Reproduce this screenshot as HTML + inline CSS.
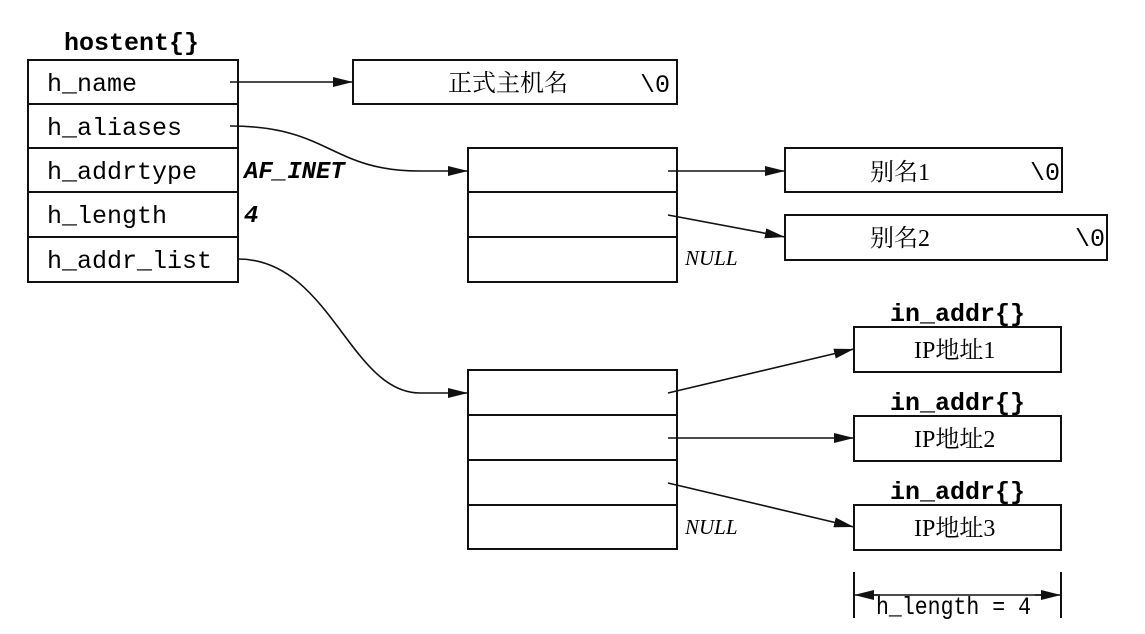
<!DOCTYPE html>
<html><head><meta charset="utf-8"><style>
body{margin:0;background:#fff}
svg{display:block}
.m{font-family:"Liberation Mono",monospace;font-size:25px}
.b{font-family:"Liberation Mono",monospace;font-size:25px;font-weight:bold}
.c{font-family:"Liberation Serif","Noto Serif CJK SC",serif;font-size:24px}
.i{font-family:"Liberation Serif",serif;font-style:italic;font-size:21px}
.mi{font-family:"Liberation Mono",monospace;font-style:italic;font-size:24px;font-weight:bold}
</style></head><body>
<svg width="1145" height="634" viewBox="0 0 1145 634" xmlns="http://www.w3.org/2000/svg">
<defs><marker id="a" markerWidth="20" markerHeight="10" refX="20" refY="5" orient="auto" markerUnits="userSpaceOnUse"><path d="M0,0 L20,5 L0,10 Z" fill="#111"/></marker></defs>
<g fill="none" stroke="#111" stroke-width="2">
<rect x="28" y="60" width="210" height="222"/>
<path d="M28 104H238M28 148H238M28 192H238M28 237H238"/>
<rect x="353" y="60" width="324" height="44"/>
<rect x="468" y="148" width="209" height="134"/>
<path d="M468 192H677M468 237H677"/>
<rect x="785" y="148" width="277" height="44"/>
<rect x="785" y="215" width="322" height="45"/>
<rect x="468" y="370" width="209" height="179"/>
<path d="M468 415H677M468 460H677M468 505H677"/>
<rect x="854" y="327" width="207" height="45"/>
<rect x="854" y="416" width="207" height="45"/>
<rect x="854" y="505" width="207" height="45"/>
<path d="M854 572V618M1061 572V618"/>
</g>
<g fill="none" stroke="#111" stroke-width="1.6" marker-end="url(#a)">
<path d="M230 82H353"/>
<path d="M230 126C330 126 330 171 420 171H468"/>
<path d="M668 171H785"/>
<path d="M668 215L785 237"/>
<path d="M238 259C330 259 350 393 420 393H468"/>
<path d="M668 393L854 349"/>
<path d="M668 438H854"/>
<path d="M668 483L854 527"/>
<path d="M880 595H854"/>
<path d="M1035 595H1061"/>
</g>
<path d="M870 595H1045" stroke="#111" stroke-width="1.6"/>
<text x="64" y="50" class="b">hostent{}</text>
<text x="47" y="91" class="m">h_name</text>
<text x="47" y="135" class="m">h_aliases</text>
<text x="47" y="179" class="m">h_addrtype</text>
<text x="47" y="223" class="m">h_length</text>
<text x="47" y="268" class="m">h_addr_list</text>
<text x="244" y="178" class="mi">AF_INET</text>
<text x="244" y="222" class="mi">4</text>
<text x="448" y="91" class="c">正式主机名</text>
<text x="640" y="92" class="m">\0</text>
<text x="870" y="180" class="c">别名1</text>
<text x="1030" y="180" class="m">\0</text>
<text x="870" y="246" class="c">别名2</text>
<text x="1075" y="246" class="m">\0</text>
<text x="685" y="265" class="i">NULL</text>
<text x="685" y="534" class="i">NULL</text>
<text x="890" y="321" class="b">in_addr{}</text>
<text x="890" y="410" class="b">in_addr{}</text>
<text x="890" y="499" class="b">in_addr{}</text>
<text x="914" y="358" class="c">IP地址1</text>
<text x="914" y="447" class="c">IP地址2</text>
<text x="914" y="536" class="c">IP地址3</text>
<text x="876" y="614" class="m" textLength="155" lengthAdjust="spacingAndGlyphs">h_length = 4</text>
</svg>
</body></html>
